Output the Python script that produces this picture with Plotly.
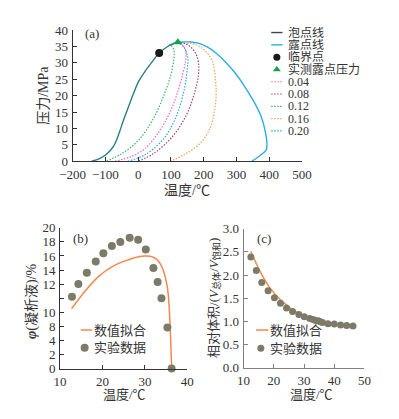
import plotly.graph_objects as go

# ---------------- data ----------------
# (a) phase envelope
bubble_T = [-142, -118, -100, -86, -75, -66, -55, -45, -30, -15, 1, 20, 40, 64, 90, 110, 121]
bubble_P = [0, 0.8, 1.9, 3.2, 4.6, 6.5, 9.5, 12.5, 16.5, 20.5, 24.3, 27.3, 30.0, 33.0, 35.0, 36.0, 36.3]
dew_T = [121, 140, 160, 180, 212, 240, 270, 300, 327, 352, 375, 388, 393, 390, 375, 347]
dew_P = [36.3, 36.4, 36.4, 36.1, 34.8, 32.8, 29.9, 26.4, 22.5, 18.4, 13.7, 9.0, 5.0, 3.3, 2.0, 0]
crit_T = [64]
crit_P = [33]
meas_T = [121]
meas_P = [36.3]

q004_T = [-71, -20, 21, 60, 95, 120, 137, 145, 145, 138, 128]
q004_P = [0, 1.5, 3.9, 8.5, 14.5, 21.0, 27.0, 31.0, 33.5, 35.2, 36.0]
q008_T = [1, 49, 107, 150, 174, 184, 184, 176, 162, 145, 132]
q008_P = [0, 2.5, 7.8, 14.7, 21.6, 26.5, 30.0, 32.8, 34.7, 35.8, 36.2]
q012_T = [-97, -47, 1, 45, 80, 100, 108, 110, 107, 100, 95]
q012_P = [0, 2.5, 6.4, 12.8, 20.5, 26.5, 30.5, 32.8, 34.5, 35.4, 35.8]
q016_T = [97, 140, 193, 222, 236, 238, 236, 227, 203, 174, 145]
q016_P = [0, 2.0, 5.9, 10.8, 17.6, 21.0, 24.5, 30.4, 33.8, 35.6, 36.1]
q020_T = [-32, 21, 78, 116, 140, 150, 152, 150, 140, 126]
q020_P = [0, 2.0, 6.9, 13.7, 21.6, 28.4, 30.5, 32.3, 34.8, 36.0]

# (b) liquid dropout
b_exp_T = [12.8, 14.3, 16.3, 18.4, 20.2, 22.2, 24.2, 26.4, 28.4, 30.2, 32.0, 33.0, 33.9, 35.3, 36.3]
b_exp_V = [10.2, 12.0, 13.6, 15.2, 16.4, 17.4, 18.0, 18.6, 18.3, 16.9, 14.3, 12.3, 10.0, 5.85, 0.0]
b_fit_T = [12.7, 15.2, 18.9, 22.6, 26.3, 28.5, 30.0, 31.2, 32.2, 33.0, 33.7, 34.3, 34.8, 35.3, 35.6, 35.9, 36.1, 36.3]
b_fit_V = [8.5, 10.5, 13.0, 14.6, 15.5, 15.9, 16.0, 15.95, 15.75, 15.4, 14.8, 14.0, 13.0, 11.5, 9.8, 6.6, 3.5, 0.2]
b_yticks = [0, 2, 4, 6, 8, 10, 12, 14, 16, 18, 20]
b_yticktext = ["0", "2", "4", "8", "10", "", "12", "14", "16", "18", "20"]

# (c) relative volume
c_exp_T = [12.4, 14.2, 16.0, 18.1, 20.2, 22.2, 24.2, 26.2, 28.3, 30.1, 31.9, 33.0, 33.8, 34.7, 35.4, 36.1, 37.9, 40.0, 42.1, 44.1, 46.2]
c_exp_V = [2.39, 2.10, 1.84, 1.66, 1.51, 1.39, 1.29, 1.21, 1.15, 1.10, 1.06, 1.04, 1.02, 1.01, 0.99, 0.975, 0.95, 0.94, 0.92, 0.91, 0.90]
c_fit_T = [12.4, 15.3, 18.4, 22.6, 27.8, 31.9, 35.0]
c_fit_V = [2.51, 2.10, 1.75, 1.44, 1.19, 1.08, 1.01]

# ---------------- styles ----------------
W, H = 399, 419
FONT = "Liberation Serif, Times New Roman, Noto Sans CJK SC, serif"
TXT = "#333333"
C_BUB = "#2a7f86"
C_BUB_LEG = "#444444"
C_DEW = "#29aee8"
C_CRIT = "#1a1a1a"
C_MEAS = "#17a24a"
C_Q = {"0.04": "#f264b8", "0.08": "#a8427c", "0.12": "#3cb36e", "0.16": "#f5a05a", "0.20": "#2fa8e6"}
C_FIT = "#f5884a"
C_DOT = "#7b7b68"
DOT = "1.5px,1.5px"

def px(x):
    return x / W

def py(y):
    return 1 - y / H

fig = go.Figure()

# (a)
fig.add_trace(go.Scatter(x=dew_T, y=dew_P, mode="lines", line=dict(color=C_DEW, width=1.4, shape="spline"), xaxis="x", yaxis="y"))
quals = [("0.04", q004_T, q004_P), ("0.08", q008_T, q008_P), ("0.12", q012_T, q012_P),
         ("0.16", q016_T, q016_P), ("0.20", q020_T, q020_P)]
for name, t, p in quals:
    fig.add_trace(go.Scatter(x=t, y=p, mode="lines", line=dict(color=C_Q[name], width=1.2, dash=DOT, shape="spline"), xaxis="x", yaxis="y"))
fig.add_trace(go.Scatter(x=bubble_T, y=bubble_P, mode="lines", line=dict(color=C_BUB, width=1.4, shape="spline"), xaxis="x", yaxis="y"))
fig.add_trace(go.Scatter(x=crit_T, y=crit_P, mode="markers", marker=dict(color=C_CRIT, size=8, symbol="circle"), xaxis="x", yaxis="y"))
fig.add_trace(go.Scatter(x=meas_T, y=meas_P, mode="markers", marker=dict(color=C_MEAS, size=8, symbol="triangle-up"), xaxis="x", yaxis="y"))

# (b)
fig.add_trace(go.Scatter(x=b_fit_T, y=b_fit_V, mode="lines", line=dict(color=C_FIT, width=1.5, shape="spline"), xaxis="x2", yaxis="y2"))
fig.add_trace(go.Scatter(x=b_exp_T, y=b_exp_V, mode="markers", marker=dict(color=C_DOT, size=8), xaxis="x2", yaxis="y2", cliponaxis=False))

# (c)
fig.add_trace(go.Scatter(x=c_fit_T, y=c_fit_V, mode="lines", line=dict(color=C_FIT, width=1.5, shape="spline"), xaxis="x3", yaxis="y3"))
fig.add_trace(go.Scatter(x=c_exp_T, y=c_exp_V, mode="markers", marker=dict(color=C_DOT, size=7), xaxis="x3", yaxis="y3"))

# ---------------- manual legends (pixel overlay axis) ----------------
annotations = []

def leg_line(x0, x1, y, color, dash="solid", width=1.4):
    fig.add_trace(go.Scatter(x=[x0, x1], y=[y, y], mode="lines", line=dict(color=color, width=width, dash=dash), xaxis="x4", yaxis="y4", hoverinfo="skip"))

def leg_marker(x, y, color, symbol, size):
    fig.add_trace(go.Scatter(x=[x], y=[y], mode="markers", marker=dict(color=color, size=size, symbol=symbol), xaxis="x4", yaxis="y4", hoverinfo="skip"))

def leg_text(x, y, text, size=13, h=None):
    d = dict(x=px(x), y=py(y), xref="paper", yref="paper", text=text, showarrow=False,
             xanchor="left", yanchor="middle", font=dict(size=size, color=TXT, family=FONT))
    if h:
        d.update(height=h, valign="middle", borderpad=0)
    annotations.append(d)

a_names = ["泡点线", "露点线", "临界点", "实测露点压力", "0.04", "0.08", "0.12", "0.16", "0.20"]
y0, dy = 26.5, 12.75
for i, name in enumerate(a_names):
    yy = y0 + i * dy
    if name == "泡点线":
        leg_line(274, 286, yy, C_BUB_LEG)
    elif name == "露点线":
        leg_line(274, 286, yy, C_DEW)
    elif name == "临界点":
        leg_marker(280, yy, C_CRIT, "circle", 7)
    elif name == "实测露点压力":
        leg_marker(280, yy, C_MEAS, "triangle-up", 7)
    else:
        leg_line(274, 286, yy, C_Q[name], dash=DOT, width=1.2)
    leg_text(291, yy, name, 12, h=12)

leg_line(72, 84, 335, C_FIT, width=1.5)
leg_text(84, 335, "数值拟合", 13)
leg_marker(76, 353.5, C_DOT, "circle", 8)
leg_text(84, 353.5, "实验数据", 13)

leg_line(258, 271, 335, C_FIT, width=1.5)
leg_text(271, 335, "数值拟合", 13)
leg_marker(263, 354, C_DOT, "circle", 7)
leg_text(271, 354, "实验数据", 13)

# panel labels
for lab, x, y in [("(a)", 84, 27), ("(b)", 72, 240), ("(c)", 266, 240)]:
    annotations.append(dict(x=px(x), y=py(y), xref="paper", yref="paper", text=lab, showarrow=False,
                            xanchor="center", yanchor="middle", font=dict(size=13, color=TXT, family=FONT)))

# axis titles
def title(x, y, text, angle=0, size=14):
    annotations.append(dict(x=px(x), y=py(y), xref="paper", yref="paper", text=text, showarrow=False,
                            textangle=angle, xanchor="center", yanchor="middle",
                            font=dict(size=size, color=TXT, family=FONT)))

title(185, 190, "温度/℃", 0, 14)
title(33, 92, "压力/MPa", -90, 14)
title(118, 402, "温度/℃", 0, 13)
title(20, 305, "<b><i>φ</i></b>(凝析液)/%", -90, 14)
title(317, 402, "温度/℃", 0, 13)
title(213, 302, "相对体积/(<i>V</i><sub>总体</sub>/<i>V</i><sub>饱和</sub>)", -90, 13)

# ---------------- axes ----------------
def ax(domain, rng, dtick=None, color=TXT, tickvals=None, ticktext=None):
    d = dict(domain=domain, range=rng, showgrid=False, zeroline=False, showline=True, linecolor=color,
             linewidth=1, ticks="inside", ticklen=4, tickwidth=1, tickcolor=color,
             tickfont=dict(size=13, color=TXT, family=FONT), fixedrange=True)
    if dtick is not None:
        d.update(tick0=rng[0], dtick=dtick)
    if tickvals is not None:
        d.update(tickmode="array", tickvals=tickvals, ticktext=ticktext)
    return d

fig.update_layout(
    width=W, height=H, margin=dict(l=0, r=0, t=0, b=0),
    paper_bgcolor="white", plot_bgcolor="rgba(0,0,0,0)", showlegend=False,
    font=dict(family=FONT, color=TXT),
    xaxis=dict(ax([px(63.3), px(306.7)], [-200, 500], 100), anchor="y"),
    yaxis=dict(ax([py(160), py(24)], [0, 40], 5), anchor="x"),
    xaxis2=dict(ax([px(50), px(185)], [10, 40], 10), anchor="y2"),
    yaxis2=dict(ax([py(375), py(229)], [0, 20], tickvals=b_yticks, ticktext=b_yticktext), anchor="x2"),
    xaxis3=dict(ax([px(244.7), px(373)], [10, 50], 10, color="#808080"), anchor="y3"),
    yaxis3=dict(ax([py(374), py(230)], [0, 3.0], 0.5, color="#808080"), anchor="x3", tickformat=".1f"),
    xaxis4=dict(domain=[0, 1], range=[0, W], visible=False, fixedrange=True),
    yaxis4=dict(domain=[0, 1], range=[H, 0], visible=False, fixedrange=True, anchor="x4"),
    annotations=annotations,
)
fig.update_xaxes(ticklabelstandoff=1)
fig.update_yaxes(ticklabelstandoff=1)

fig.write_html("out.html", config={"displayModeBar": False},
               post_script="document.body.style.margin='0';document.body.style.overflow='hidden';")
